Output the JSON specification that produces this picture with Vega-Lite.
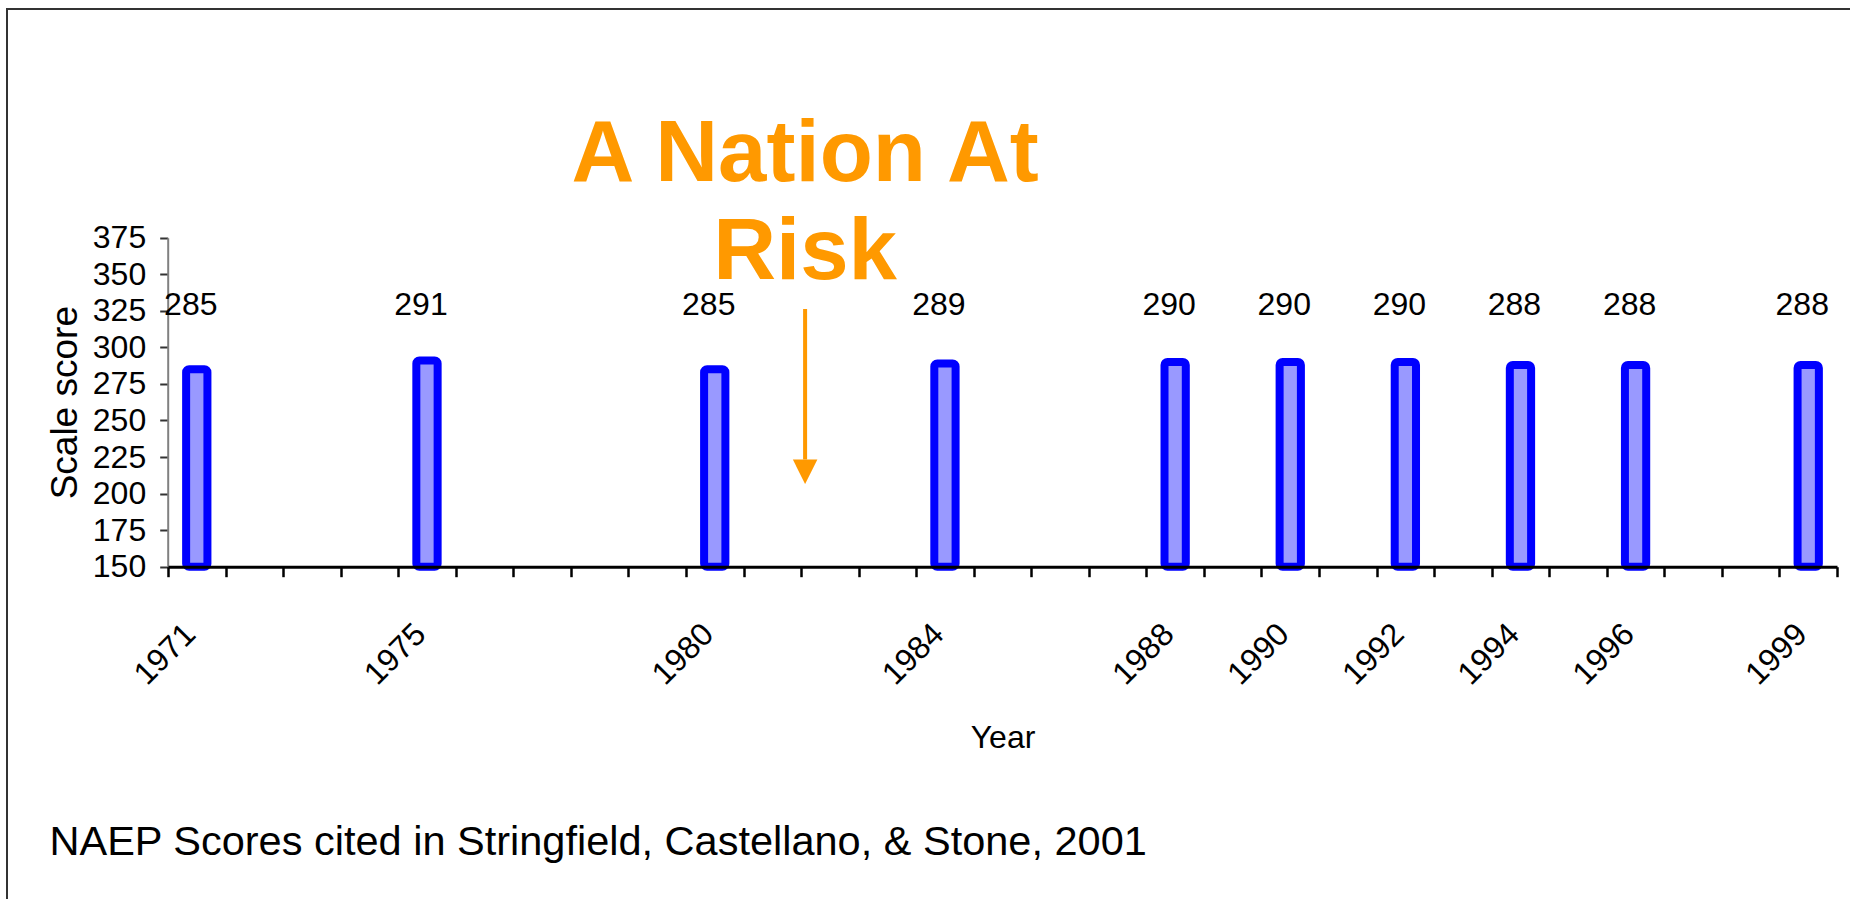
{
  "$schema": "https://vega.github.io/schema/vega-lite/v6.json",
  "width": 1843,
  "height": 890,
  "autosize": {"type": "none"},
  "padding": {"left": 7, "top": 9, "right": 0, "bottom": 0},
  "background": "white",
  "config": {
    "view": {"stroke": "#333333", "strokeWidth": 2, "strokeDash": [1843, 2733, 890]},
    "text": {"font": "Liberation Sans"}
  },
  "data": {
    "values": [
      {"year": 1971, "score": 285},
      {"year": 1975, "score": 291},
      {"year": 1980, "score": 285},
      {"year": 1984, "score": 289},
      {"year": 1988, "score": 290},
      {"year": 1990, "score": 290},
      {"year": 1992, "score": 290},
      {"year": 1994, "score": 288},
      {"year": 1996, "score": 288},
      {"year": 1999, "score": 288}
    ]
  },
  "layer": [
    {
      "mark": {"type": "bar", "fill": "#9999FF", "stroke": "#0000FF", "strokeWidth": 8, "cornerRadius": 3, "width": {"band": 0.37}},
      "encoding": {
        "x": {
          "field": "year",
          "type": "ordinal",
          "scale": {
            "domain": [1971, 1972, 1973, 1974, 1975, 1976, 1977, 1978, 1979, 1980, 1981, 1982, 1983, 1984, 1985, 1986, 1987, 1988, 1989, 1990, 1991, 1992, 1993, 1994, 1995, 1996, 1997, 1998, 1999],
            "range": [161, 1830],
            "paddingInner": 0,
            "paddingOuter": 0
          },
          "axis": {
            "title": "Year",
            "orient": "bottom",
            "offset": -332.3,
            "zindex": 1,
            "domain": true,
            "domainColor": "#000000",
            "domainWidth": 3,
            "grid": false,
            "tickBand": "extent",
            "tickSize": 10,
            "tickWidth": 2.5,
            "tickColor": "#000000",
            "labelAngle": -45,
            "labelAlign": "right",
            "labelBaseline": "middle",
            "labelPadding": 52,
            "labelOffset": -7,
            "labelOverlap": false,
            "labelFont": "Liberation Sans",
            "labelFontSize": 32,
            "labelColor": "#000000",
            "labelExpr": "indexof([1971, 1975, 1980, 1984, 1988, 1990, 1992, 1994, 1996, 1999], +datum.value) >= 0 ? datum.label : ''",
            "titleFont": "Liberation Sans",
            "titleFontSize": 32,
            "titleFontWeight": "normal",
            "titleColor": "#000000",
            "titlePadding": 32
          }
        },
        "y": {
          "field": "score",
          "type": "quantitative",
          "scale": {"domain": [150, 375], "range": [557.7, 228.7], "nice": false, "zero": false},
          "axis": {
            "title": "Scale score",
            "orient": "left",
            "offset": -160.7,
            "values": [150, 175, 200, 225, 250, 275, 300, 325, 350, 375],
            "domain": true,
            "domainColor": "#808080",
            "domainWidth": 2,
            "grid": false,
            "tickSize": 8,
            "tickWidth": 2,
            "tickColor": "#333333",
            "labelFont": "Liberation Sans",
            "labelFontSize": 32,
            "labelColor": "#000000",
            "labelPadding": 14,
            "titleFont": "Liberation Sans",
            "titleFontSize": 37,
            "titleFontWeight": "normal",
            "titleColor": "#000000",
            "titlePadding": 8
          }
        },
        "y2": {"datum": 150}
      }
    },
    {
      "mark": {"type": "text", "font": "Liberation Sans", "fontSize": 32, "dx": -6, "align": "center", "baseline": "middle", "color": "#000000"},
      "encoding": {
        "x": {"field": "year", "type": "ordinal"},
        "y": {"datum": 329, "type": "quantitative"},
        "text": {"field": "score", "type": "quantitative"}
      }
    },
    {
      "data": {"values": [{"note": "A Nation At\nRisk"}]},
      "mark": {"type": "text", "font": "Liberation Sans", "fontWeight": "bold", "fontSize": 87, "color": "#FF9900", "align": "center", "baseline": "alphabetic", "lineBreak": "\n", "lineHeight": 98},
      "encoding": {
        "x": {"datum": 1982, "type": "ordinal", "bandPosition": 0.07},
        "y": {"datum": 413.5, "type": "quantitative"},
        "text": {"field": "note", "type": "nominal"}
      }
    },
    {
      "data": {"values": [{"note": "A Nation At Risk"}]},
      "mark": {"type": "rule", "color": "#FF9900", "strokeWidth": 4},
      "encoding": {
        "x": {"datum": 1982, "type": "ordinal", "bandPosition": 0.07},
        "y": {"datum": 326.2, "type": "quantitative"},
        "y2": {"datum": 223.3}
      }
    },
    {
      "data": {"values": [{"note": "A Nation At Risk"}]},
      "mark": {"type": "point", "shape": "M-1,-1L1,-1L0,1Z", "size": 600, "filled": true, "color": "#FF9900", "opacity": 1},
      "encoding": {
        "x": {"datum": 1982, "type": "ordinal", "bandPosition": 0.07},
        "y": {"datum": 214.9, "type": "quantitative"}
      }
    },
    {
      "data": {"values": [{"source": "NAEP Scores cited in Stringfield, Castellano, & Stone, 2001"}]},
      "mark": {"type": "text", "font": "Liberation Sans", "fontSize": 41.5, "dx": -118.5, "align": "left", "baseline": "alphabetic", "color": "#000000"},
      "encoding": {
        "x": {"datum": 1971, "type": "ordinal", "bandPosition": 0},
        "y": {"datum": -47.2, "type": "quantitative"},
        "text": {"field": "source", "type": "nominal"}
      }
    }
  ]
}
